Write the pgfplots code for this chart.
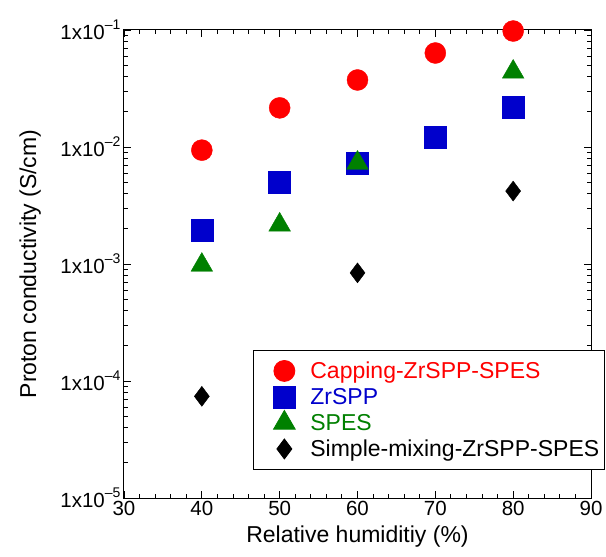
\documentclass[border=0pt]{standalone}
\usepackage{pgfplots}
\pgfplotsset{compat=1.18}
\usepackage{fontspec}
\setmainfont{Liberation Sans}
\definecolor{capred}{RGB}{255,0,0}
\definecolor{zrblue}{RGB}{0,0,204}
\definecolor{spgreen}{RGB}{0,128,0}
\newcommand{\tickfont}{\fontsize{20.5}{24}\selectfont}
\newcommand{\chartfont}{\fontsize{23}{27}\selectfont}
\newcommand{\expo}[1]{{\tickfont 1x10}\raisebox{10pt}{\fontsize{14}{14}\selectfont –#1}}

\begin{document}
\begin{tikzpicture}
\begin{axis}[
  scale only axis, width=467pt, height=468pt,
  xmin=30, xmax=90, ymin=1e-5, ymax=1e-1, ymode=log,
  axis on top=true,
  xtick={30,40,50,60,70,80,90}, minor x tick num=4,
  xticklabels={30,40,50,60,70,80,90},
  ytick={1e-5,1e-4,1e-3,1e-2,1e-1},
  yticklabels={\expo{5},\expo{4},\expo{3},\expo{2},\expo{1}},
  tick label style={font=\tickfont},
  axis line style={line width=1pt},
  every tick/.append style={black, line width=0.9pt},
  major tick length=7pt, minor tick length=4pt,
  xlabel={Relative humiditiy (\%)},
  ylabel={Proton conductivity (S/cm)},
  every axis x label/.style={at={(axis description cs:0.5,-0.083)}, anchor=center, font=\chartfont},
  every axis y label/.style={at={(axis description cs:-0.201,0.5)}, rotate=90, anchor=center, font=\chartfont},
  legend style={at={(rel axis cs:0.2762,0.3162)}, anchor=north west,
                draw=black, line width=0.8pt, font=\chartfont, row sep=0pt,
                inner xsep=3pt, inner ysep=7.5pt,
                nodes={inner sep=2pt}},
  legend image code/.code={
    \path[draw=none, fill=none] (0pt,-13pt) rectangle (52pt,13pt);
    \draw[mark repeat=2,mark phase=2,#1] plot coordinates {(0pt,0pt) (28pt,0pt) (52pt,0pt)};},
  legend cell align=left,
  clip=false,
]
\addplot[only marks, mark=*, mark size=10.5pt, color=capred] coordinates
  {(40,0.0094) (50,0.0216) (60,0.0374) (70,0.0636) (80,0.098)};
\addlegendentry{\textcolor{capred}{Capping-ZrSPP-SPES}}
\addplot[only marks, mark=square*, mark size=11pt, color=zrblue] coordinates
  {(40,0.00196) (50,0.00502) (60,0.0073) (70,0.0122) (80,0.022)};
\addlegendentry{\textcolor{zrblue}{ZrSPP}}
\addplot[only marks, mark=triangle*, mark size=12.5pt, color=spgreen] coordinates
  {(40,0.00098) (50,0.00216) (60,0.0073) (80,0.0438)};
\addlegendentry{\textcolor{spgreen}{SPES}}
\addplot[only marks, mark=diamond*, mark size=10pt, color=black] coordinates
  {(40,7.4e-5) (60,8.4e-4) (80,0.0042)};
\addlegendentry{Simple-mixing-ZrSPP-SPES}
\path[draw=none] (rel axis cs:-0.2655,-0.1239) rectangle (rel axis cs:1.0321,1.0641);
\end{axis}
\end{tikzpicture}
\end{document}
